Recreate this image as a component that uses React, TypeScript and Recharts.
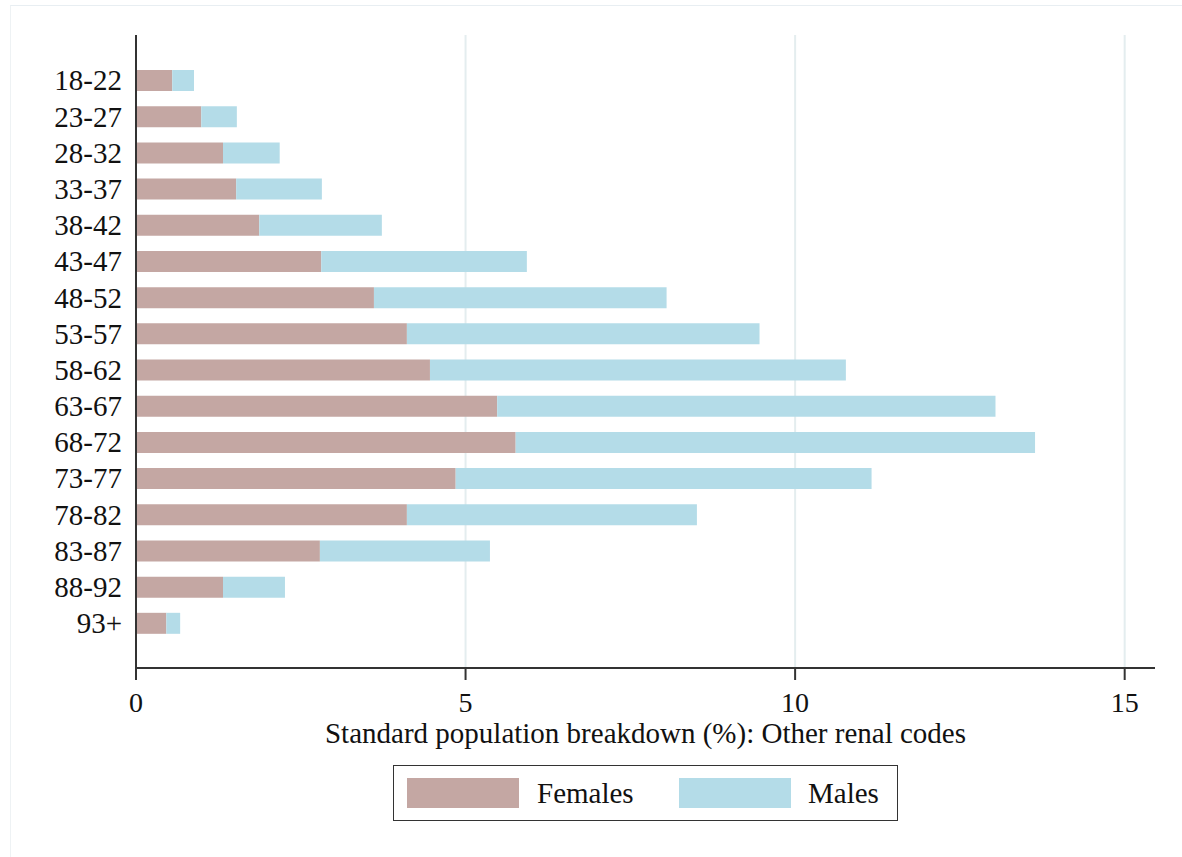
import { Bar, BarChart, CartesianGrid, XAxis, YAxis } from "recharts";

const ageGroups = [
  "18-22", "23-27", "28-32", "33-37", "38-42", "43-47", "48-52", "53-57",
  "58-62", "63-67", "68-72", "73-77", "78-82", "83-87", "88-92", "93+",
];
const females = [0.55, 0.99, 1.32, 1.52, 1.87, 2.81, 3.61, 4.11, 4.46, 5.48, 5.76, 4.85, 4.11, 2.79, 1.32, 0.46];
const males = [0.33, 0.54, 0.86, 1.3, 1.86, 3.12, 4.44, 5.35, 6.31, 7.56, 7.88, 6.31, 4.4, 2.58, 0.94, 0.21];
const xTicks = [0, 5, 10, 15];

const FEMALE_COLOR = "#c4a7a3";
const MALE_COLOR = "#b4dce8";
const FONT = "'Liberation Serif', 'Times New Roman', serif";

const data = ageGroups.map((age, i) => ({ age, females: females[i], males: males[i] }));

function Legend() {
  return (
    <div
      style={{
        position: "absolute",
        left: 393,
        top: 765,
        width: 505,
        height: 56,
        border: "1px solid #333",
        boxSizing: "border-box",
        fontFamily: FONT,
        fontSize: 29,
        color: "#111",
      }}
    >
      <div style={{ position: "absolute", left: 13, top: 12, width: 112, height: 30, background: FEMALE_COLOR }} />
      <div style={{ position: "absolute", left: 143, top: 10, lineHeight: "34px" }}>Females</div>
      <div style={{ position: "absolute", left: 285, top: 12, width: 112, height: 30, background: MALE_COLOR }} />
      <div style={{ position: "absolute", left: 414, top: 10, lineHeight: "34px" }}>Males</div>
    </div>
  );
}

export default function App() {
  return (
    <div style={{ position: "absolute", left: 0, top: 0, width: 1182, height: 857, background: "#fff", overflow: "hidden" }}>
      <div
        style={{
          position: "absolute",
          left: 10,
          top: 5,
          width: 1200,
          height: 900,
          borderTop: "1px solid #e8eef2",
          borderLeft: "1px solid #eef2f4",
        }}
      />
      <BarChart
        width={1182}
        height={857}
        data={data}
        layout="vertical"
        margin={{ top: 35, right: 27, left: 0, bottom: 114 }}
        barSize={21}
      >
        <CartesianGrid horizontal={false} verticalValues={xTicks} stroke="#e4edef" strokeWidth={2} />
        <XAxis
          type="number"
          domain={[0, 15.46]}
          ticks={xTicks}
          allowDataOverflow
          height={75}
          stroke="#333"
          strokeWidth={2}
          tickSize={12}
          tickMargin={12}
          tick={{ fill: "#111", fontSize: 28, fontFamily: FONT }}
          label={{
            value: "Standard population breakdown (%): Other renal codes",
            position: "insideBottom",
            offset: 0,
            fill: "#111",
            fontSize: 29,
            fontFamily: FONT,
          }}
        />
        <YAxis
          type="category"
          dataKey="age"
          width={136}
          padding={{ top: 27, bottom: 27 }}
          stroke="#333"
          strokeWidth={2}
          tickLine={false}
          tickMargin={8}
          tick={{ fill: "#111", fontSize: 29, fontFamily: FONT }}
          interval={0}
        />
        <Bar dataKey="females" stackId="a" fill={FEMALE_COLOR} isAnimationActive={false} />
        <Bar dataKey="males" stackId="a" fill={MALE_COLOR} isAnimationActive={false} />
      </BarChart>
      <Legend />
    </div>
  );
}
